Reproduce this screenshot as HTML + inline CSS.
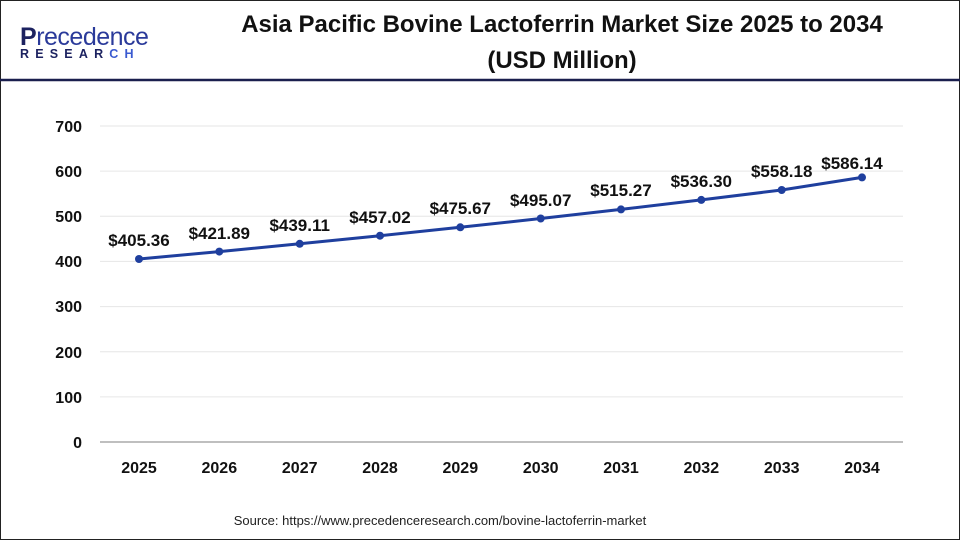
<!DOCTYPE html>
<html><head><style>
body{margin:0;background:#fff;}
svg{display:block;font-family:"Liberation Sans",Arial,sans-serif;}
</style></head><body>
<svg width="960" height="540" viewBox="0 0 960 540">
<rect x="0.5" y="0.5" width="959" height="539" fill="#fff" stroke="#222" stroke-width="1"/>
<line x1="0" y1="80" x2="960" y2="80" stroke="#1a1f4e" stroke-width="2.5"/>
<text x="20" y="45" font-size="25" fill="#1c2260" font-weight="bold" letter-spacing="-0.5">P<tspan fill="#2a3a9a" font-weight="normal">recedence</tspan></text>
<text x="20" y="58" font-size="12.5" fill="#1c2260" font-weight="bold" letter-spacing="6.2">RESEAR<tspan fill="#3a5ad0">CH</tspan></text>
<text x="562" y="32" font-size="24" font-weight="bold" text-anchor="middle" fill="#111">Asia Pacific Bovine Lactoferrin Market Size 2025 to 2034</text>
<text x="562" y="68" font-size="24" font-weight="bold" text-anchor="middle" fill="#111">(USD Million)</text>
<g stroke="#e6e6e6" stroke-width="1">
<line x1="100" y1="126" x2="903" y2="126"/><line x1="100" y1="171.1" x2="903" y2="171.1"/>
<line x1="100" y1="216.3" x2="903" y2="216.3"/><line x1="100" y1="261.4" x2="903" y2="261.4"/>
<line x1="100" y1="306.6" x2="903" y2="306.6"/><line x1="100" y1="351.7" x2="903" y2="351.7"/>
<line x1="100" y1="396.9" x2="903" y2="396.9"/>
</g>
<line x1="100" y1="442" x2="903" y2="442" stroke="#999" stroke-width="1.2"/>
<g font-size="16" font-weight="bold" fill="#111" text-anchor="end">
<text x="82" y="132">700</text><text x="82" y="177">600</text><text x="82" y="222">500</text>
<text x="82" y="267">400</text><text x="82" y="312">300</text><text x="82" y="358">200</text>
<text x="82" y="403">100</text><text x="82" y="448">0</text>
</g>
<g font-size="16" font-weight="bold" fill="#111" text-anchor="middle">
<text x="139" y="473">2025</text><text x="219.3" y="473">2026</text><text x="299.7" y="473">2027</text>
<text x="380" y="473">2028</text><text x="460.3" y="473">2029</text><text x="540.7" y="473">2030</text>
<text x="621" y="473">2031</text><text x="701.3" y="473">2032</text><text x="781.7" y="473">2033</text>
<text x="862" y="473">2034</text>
</g>
<polyline fill="none" stroke="#1f3f9e" stroke-width="3" points="139,259 219.3,251.6 299.7,243.8 380,235.7 460.3,227.3 540.7,218.5 621,209.4 701.3,199.9 781.7,190 862,177.4"/>
<g fill="#1f3f9e">
<circle cx="139" cy="259" r="4"/><circle cx="219.3" cy="251.6" r="4"/><circle cx="299.7" cy="243.8" r="4"/>
<circle cx="380" cy="235.7" r="4"/><circle cx="460.3" cy="227.3" r="4"/><circle cx="540.7" cy="218.5" r="4"/>
<circle cx="621" cy="209.4" r="4"/><circle cx="701.3" cy="199.9" r="4"/><circle cx="781.7" cy="190" r="4"/>
<circle cx="862" cy="177.4" r="4"/>
</g>
<g font-size="17" font-weight="bold" fill="#111" text-anchor="middle">
<text x="139" y="246">$405.36</text><text x="219.3" y="239">$421.89</text><text x="299.7" y="231">$439.11</text>
<text x="380" y="223">$457.02</text><text x="460.3" y="214">$475.67</text><text x="540.7" y="206">$495.07</text>
<text x="621" y="196">$515.27</text><text x="701.3" y="187">$536.30</text><text x="781.7" y="177">$558.18</text>
<text x="852" y="169">$586.14</text>
</g>
<text x="440" y="525" font-size="13" fill="#222" text-anchor="middle">Source: https://www.precedenceresearch.com/bovine-lactoferrin-market</text>
</svg>
</body></html>
